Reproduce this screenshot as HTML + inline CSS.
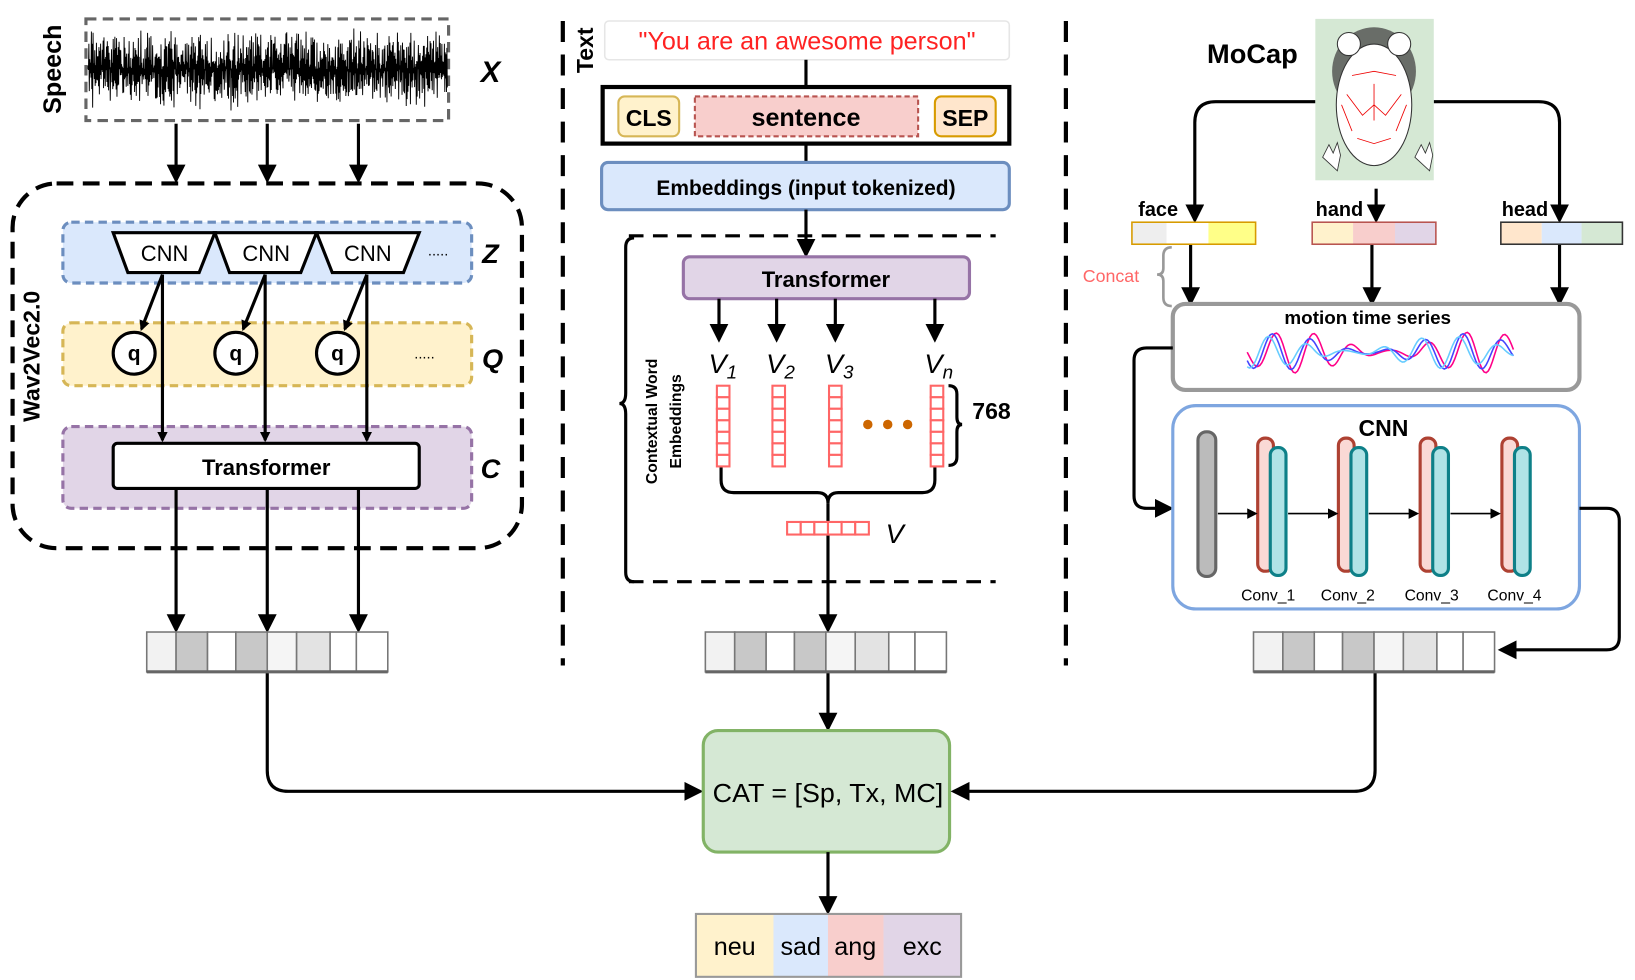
<!DOCTYPE html>
<html><head><meta charset="utf-8"><style>
html,body{margin:0;padding:0;background:#fff;width:1635px;height:980px;overflow:hidden}
svg{display:block}
text{font-family:"Liberation Sans",sans-serif}
</style></head><body>
<svg width="1635" height="980" viewBox="0 0 1560 935" xmlns="http://www.w3.org/2000/svg">
<defs>
<marker id="ah" markerWidth="10" markerHeight="10" refX="8" refY="5" orient="auto" markerUnits="userSpaceOnUse"><path d="M0,0 L10,5 L0,10 Z" fill="#000"/></marker>
<marker id="ab" markerWidth="18" markerHeight="18" refX="15" refY="9" orient="auto" markerUnits="userSpaceOnUse"><path d="M0,0 L18,9 L0,18 Z" fill="#000"/></marker>
</defs>
<g stroke="#000" stroke-width="3" fill="none">
<rect x="82" y="18" width="346" height="97" stroke="#666" stroke-width="3" stroke-dasharray="10 6"/>
<path id="wave" d="" stroke="#000" stroke-width="0.9"/>
<line x1="168" y1="118" x2="168" y2="172" marker-end="url(#ab)"/>
<line x1="255" y1="118" x2="255" y2="172" marker-end="url(#ab)"/>
<line x1="342" y1="118" x2="342" y2="172" marker-end="url(#ab)"/>
<rect x="12" y="175" width="486" height="348" rx="42" stroke-width="4" stroke-dasharray="16 9"/>
<rect x="60" y="212" width="390" height="58" rx="8" fill="#dae8fc" stroke="#6c8ebf" stroke-dasharray="8 5"/>
<rect x="60" y="308" width="390" height="60" rx="8" fill="#fff2cc" stroke="#d6b656" stroke-dasharray="8 5"/>
<rect x="60" y="407" width="390" height="78" rx="8" fill="#e1d5e7" stroke="#9673a6" stroke-dasharray="8 5"/>
<path d="M108,222 L205,222 L190,260 L122,260 Z" fill="#fff"/>
<path d="M205,222 L302,222 L287,260 L219,260 Z" fill="#fff"/>
<path d="M302,222 L400,222 L385,260 L317,260 Z" fill="#fff"/>
<circle cx="128" cy="337" r="20" fill="#fff"/>
<circle cx="225" cy="337" r="20" fill="#fff"/>
<circle cx="322" cy="337" r="20" fill="#fff"/>
<line x1="155" y1="262" x2="135" y2="314" marker-end="url(#ah)"/>
<line x1="253" y1="262" x2="232" y2="314" marker-end="url(#ah)"/>
<line x1="350" y1="262" x2="329" y2="314" marker-end="url(#ah)"/>
<line x1="155" y1="262" x2="155" y2="420" marker-end="url(#ah)"/>
<line x1="253" y1="262" x2="253" y2="420" marker-end="url(#ah)"/>
<line x1="350" y1="262" x2="350" y2="420" marker-end="url(#ah)"/>
<rect x="108" y="423" width="292" height="43" rx="4" fill="#fff" stroke-width="3"/>
<line x1="168" y1="466" x2="168" y2="601" marker-end="url(#ab)"/>
<line x1="255" y1="466" x2="255" y2="601" marker-end="url(#ab)"/>
<line x1="342" y1="466" x2="342" y2="601" marker-end="url(#ab)"/>
<path d="M255,641 L255,735 Q255,755 275,755 L668,755" marker-end="url(#ab)"/>
<line x1="537" y1="20" x2="537" y2="635" stroke-width="4" stroke-dasharray="20 12"/>
<line x1="1017" y1="20" x2="1017" y2="635" stroke-width="4" stroke-dasharray="20 12"/>
<rect x="577" y="20" width="386" height="37" rx="4" stroke="#e6e6e6" stroke-width="1.5" fill="#fff"/>
<line x1="769" y1="57" x2="769" y2="83"/>
<rect x="575" y="83" width="388" height="54" stroke-width="4" fill="#fff"/>
<rect x="590" y="92" width="58" height="38" rx="6" fill="#fff2cc" stroke="#d6b656" stroke-width="2"/>
<rect x="663" y="92" width="213" height="38" fill="#f8cecc" stroke="#b85450" stroke-width="2" stroke-dasharray="5 3"/>
<rect x="892" y="92" width="58" height="38" rx="6" fill="#ffe6cc" stroke="#d79b00" stroke-width="2"/>
<line x1="769" y1="137" x2="769" y2="155"/>
<rect x="574" y="155" width="389" height="45" rx="6" fill="#dae8fc" stroke="#6c8ebf" stroke-width="3"/>
<line x1="769" y1="200" x2="769" y2="243" marker-end="url(#ab)"/>
<line x1="600" y1="225" x2="950" y2="225" stroke-dasharray="14 9"/>
<line x1="600" y1="555" x2="950" y2="555" stroke-dasharray="14 9"/>
<path d="M605,227 Q597,227 597,236 L597,375 Q597,385 591,385 Q597,385 597,395 L597,546 Q597,555 605,555"/>
<rect x="652" y="245" width="273" height="40" rx="6" fill="#e1d5e7" stroke="#9673a6" stroke-width="3"/>
<line x1="686" y1="285" x2="686" y2="324" marker-end="url(#ab)"/>
<line x1="741" y1="285" x2="741" y2="324" marker-end="url(#ab)"/>
<line x1="797" y1="285" x2="797" y2="324" marker-end="url(#ab)"/>
<line x1="892" y1="285" x2="892" y2="324" marker-end="url(#ab)"/>
<path d="M905,368 Q913,368 913,376 L913,398 Q913,405 918,405 Q913,405 913,412 L913,436 Q913,444 905,444"/>
<path d="M688,446 L688,458 Q688,470 700,470 L780,470 Q790,470 790,480 Q790,470 800,470 L880,470 Q892,470 892,458 L892,446"/>
<line x1="790" y1="480" x2="790" y2="498"/>
<line x1="790" y1="510" x2="790" y2="601" marker-end="url(#ab)"/>
<line x1="790" y1="641" x2="790" y2="695" marker-end="url(#ab)"/>
<rect x="671" y="697" width="235" height="116" rx="14" fill="#d5e8d4" stroke="#82b366" stroke-width="3"/>
<line x1="790" y1="813" x2="790" y2="870" marker-end="url(#ab)"/>
<path d="M1255,97 L1160,97 Q1140,97 1140,117 L1140,210" marker-end="url(#ab)"/>
<path d="M1368,97 L1468,97 Q1488,97 1488,117 L1488,210" marker-end="url(#ab)"/>
<line x1="1313" y1="180" x2="1313" y2="210" marker-end="url(#ab)"/>
<line x1="1136" y1="233" x2="1136" y2="289" marker-end="url(#ab)"/>
<line x1="1309" y1="233" x2="1309" y2="289" marker-end="url(#ab)"/>
<line x1="1488" y1="233" x2="1488" y2="289" marker-end="url(#ab)"/>
<path d="M1118,236 Q1110,236 1110,244 L1110,256 Q1110,262 1104,262 Q1110,262 1110,268 L1110,284 Q1110,292 1118,292" stroke="#999" stroke-width="2.5"/>
<rect x="1119" y="290" width="388" height="82" rx="12" stroke="#999" stroke-width="4" fill="#fff"/>
<path d="M1119,332 L1094,332 Q1082,332 1082,344 L1082,473 Q1082,485 1094,485 L1117,485" marker-end="url(#ab)"/>
<rect x="1119" y="387" width="388" height="194" rx="22" stroke="#7ea6e0" stroke-width="3" fill="#fff"/>
<path d="M1507,485 L1533,485 Q1545,485 1545,497 L1545,608 Q1545,620 1533,620 L1432,620" marker-end="url(#ab)"/>
<path d="M1312,641 L1312,735 Q1312,755 1292,755 L910,755" marker-end="url(#ab)"/>
<rect x="1143" y="412" width="17" height="138" rx="8" fill="#bbb" stroke="#666" stroke-width="3"/>
<g id="convs"></g>
<line x1="1162" y1="490" x2="1198" y2="490" stroke-width="1.5" marker-end="url(#ah)"/>
<line x1="1229" y1="490" x2="1275" y2="490" stroke-width="1.5" marker-end="url(#ah)"/>
<line x1="1306" y1="490" x2="1352" y2="490" stroke-width="1.5" marker-end="url(#ah)"/>
<line x1="1384" y1="490" x2="1430" y2="490" stroke-width="1.5" marker-end="url(#ah)"/>
<path id="w1" d="" stroke="#f08" stroke-width="1.5"/>
<path id="w2" d="" stroke="#44f" stroke-width="1.5"/>
<path id="w3" d="" stroke="#6cf" stroke-width="1.5"/>
</g>
<g id="vecs"></g>
<g stroke-width="1.5">
<rect x="1080" y="212" width="33" height="21" fill="#eee" stroke="none"/><rect x="1113" y="212" width="40" height="21" fill="#fff" stroke="none"/><rect x="1153" y="212" width="45" height="21" fill="#ffff88" stroke="none"/>
<rect x="1080" y="212" width="118" height="21" fill="none" stroke="#d79b00"/>
<rect x="1252" y="212" width="39" height="21" fill="#fff2cc"/><rect x="1291" y="212" width="40" height="21" fill="#f8cecc"/><rect x="1331" y="212" width="39" height="21" fill="#e1d5e7"/>
<rect x="1252" y="212" width="118" height="21" fill="none" stroke="#b85450"/>
<rect x="1432" y="212" width="39" height="21" fill="#ffe6cc"/><rect x="1471" y="212" width="38" height="21" fill="#dae8fc"/><rect x="1509" y="212" width="39" height="21" fill="#d5e8d4"/>
<rect x="1432" y="212" width="116" height="21" fill="none" stroke="#333"/>
</g>
<rect x="1255" y="18" width="113" height="154" fill="#d5e8d4"/>
<ellipse cx="1311" cy="68" rx="40" ry="42" fill="#444" opacity="0.75"/>
<ellipse cx="1311" cy="100" rx="36" ry="58" fill="#fff" stroke="#333" stroke-width="1"/>
<circle cx="1287" cy="42" r="11" fill="#fff" stroke="#333"/><circle cx="1335" cy="42" r="11" fill="#fff" stroke="#333"/>
<g stroke="#e00" stroke-width="0.8" fill="none"><path d="M1285,90 L1300,110 L1311,100 L1322,110 L1337,90 M1290,72 L1311,68 L1332,72 M1295,132 L1311,137 L1327,132 M1280,100 L1290,125 M1342,100 L1332,125 M1311,80 L1311,115"/></g>
<path d="M1262,150 l6,-12 l4,8 l4,-10 l3,12 l-3,15 z M1350,150 l6,-12 l4,8 l4,-10 l3,12 l-3,15 z" fill="#fff" stroke="#333" stroke-width="0.8"/>
<g stroke="#f66" stroke-width="2" fill="#fff" id="vvec"></g>
<circle cx="828" cy="405" r="4.5" fill="#c60"/><circle cx="847" cy="405" r="4.5" fill="#c60"/><circle cx="866" cy="405" r="4.5" fill="#c60"/>
<rect x="664" y="872" width="74" height="60" fill="#fff2cc"/><rect x="738" y="872" width="52" height="60" fill="#dae8fc"/><rect x="790" y="872" width="53" height="60" fill="#f8cecc"/><rect x="843" y="872" width="74" height="60" fill="#e1d5e7"/>
<rect x="664" y="872" width="253" height="60" fill="none" stroke="#999" stroke-width="2"/>
<g font-weight="bold" fill="#000">
<text x="52" y="66" font-size="24" transform="rotate(-90 52 66)" text-anchor="middle" dominant-baseline="middle">Speech</text>
<text x="468" y="78" font-size="28" font-style="italic" text-anchor="middle">X</text>
<text x="32" y="340" font-size="22" transform="rotate(-90 32 340)" text-anchor="middle" dominant-baseline="middle">Wav2Vec2.0</text>
<g font-weight="normal" font-size="21" text-anchor="middle"><text x="157" y="249">CNN</text><text x="254" y="249">CNN</text><text x="351" y="249">CNN</text></g>
<text x="418" y="244" font-size="14" font-weight="normal" text-anchor="middle">.....</text>
<text x="468" y="251" font-size="26" font-style="italic" text-anchor="middle">Z</text>
<g font-size="20" text-anchor="middle"><text x="128" y="344">q</text><text x="225" y="344">q</text><text x="322" y="344">q</text></g>
<text x="405" y="342" font-size="14" font-weight="normal" text-anchor="middle">.....</text>
<text x="470" y="351" font-size="26" font-style="italic" text-anchor="middle">Q</text>
<text x="254" y="453" font-size="21" text-anchor="middle">Transformer</text>
<text x="468" y="456" font-size="26" font-style="italic" text-anchor="middle">C</text>
<text x="560" y="48" font-size="22" transform="rotate(-90 560 48)" text-anchor="middle" dominant-baseline="middle">Text</text>
<text x="770" y="47" font-size="24" font-weight="normal" fill="#f22" text-anchor="middle">"You are an awesome person"</text>
<text x="619" y="120" font-size="22" text-anchor="middle">CLS</text>
<text x="769" y="120" font-size="24" text-anchor="middle">sentence</text>
<text x="921" y="120" font-size="22" text-anchor="middle">SEP</text>
<text x="769" y="186" font-size="20" text-anchor="middle">Embeddings (input tokenized)</text>
<text x="788" y="274" font-size="21" text-anchor="middle">Transformer</text>
<text x="623" y="402" font-size="15" transform="rotate(-90 623 402)" text-anchor="middle" dominant-baseline="middle">Contextual Word</text>
<text x="646" y="402" font-size="15" transform="rotate(-90 646 402)" text-anchor="middle" dominant-baseline="middle">Embeddings</text>
<g font-family="Liberation Serif,serif" font-style="italic" font-weight="normal" font-size="26">
<text x="676" y="356">V<tspan font-size="18" dy="5">1</tspan></text>
<text x="731" y="356">V<tspan font-size="18" dy="5">2</tspan></text>
<text x="787" y="356">V<tspan font-size="18" dy="5">3</tspan></text>
<text x="882" y="356">V<tspan font-size="18" dy="5">n</tspan></text>
<text x="845" y="518">V</text></g>
<text x="946" y="400" font-size="22" text-anchor="middle">768</text>
<text x="790" y="765" font-size="25" font-weight="normal" text-anchor="middle" textLength="220" lengthAdjust="spacingAndGlyphs">CAT = [Sp, Tx, MC]</text>
<g font-size="24" font-weight="normal" text-anchor="middle"><text x="701" y="911">neu</text><text x="764" y="911">sad</text><text x="816" y="911">ang</text><text x="880" y="911">exc</text></g>
<text x="1195" y="60" font-size="26" text-anchor="middle">MoCap</text>
<text x="1105" y="206" font-size="19" text-anchor="middle">face</text>
<text x="1278" y="206" font-size="19" text-anchor="middle">hand</text>
<text x="1455" y="206" font-size="19" text-anchor="middle">head</text>
<text x="1060" y="269" font-size="17" font-weight="normal" fill="#f66" text-anchor="middle">Concat</text>
<text x="1305" y="309" font-size="18" text-anchor="middle">motion time series</text>
<text x="1320" y="416" font-size="22" text-anchor="middle">CNN</text>
<g font-size="15" font-weight="normal" text-anchor="middle"><text x="1210" y="573">Conv_1</text><text x="1286" y="573">Conv_2</text><text x="1366" y="573">Conv_3</text><text x="1445" y="573">Conv_4</text></g>
</g>
</svg>
<script>
(function(){
var ns="http://www.w3.org/2000/svg";
function el(t,a,p){var e=document.createElementNS(ns,t);for(var k in a)e.setAttribute(k,a[k]);p.appendChild(e);return e;}
var s=12345;function r(){s=(s*16807)%2147483647;return s/2147483647;}
var d="M84,66";var sg=1;for(var x=84;x<427;x+=0.4){sg=-sg;var a=sg*r()*(20+r()*20);if(r()<0.02)a*=1.5;d+=" L"+x.toFixed(1)+","+(66+a).toFixed(1);}
document.getElementById("wave").setAttribute("d",d);
function wv(id,ph,amp){var d="";for(var x=1190;x<=1445;x+=2){var t=(x-1190)/255;var y=336+Math.sin(t*Math.PI*14+ph)*amp*(0.6+0.5*Math.sin(t*9+ph));d+=(d?" L":"M")+x+","+y.toFixed(1);}document.getElementById(id).setAttribute("d",d);}
wv("w1",0,18);wv("w2",0.6,16);wv("w3",1.2,14);
var cg=document.getElementById("convs");
[1200,1277,1355,1433].forEach(function(x){
el("rect",{x:x,y:418,width:15,height:127,rx:7,fill:"#fad9d5",stroke:"#ae4132","stroke-width":3},cg);
el("rect",{x:x+12,y:427,width:15,height:122,rx:7,fill:"#b0e3e6",stroke:"#0e8088","stroke-width":3},cg);});
var vg=document.getElementById("vecs");
var cols=["#f2f2f2","#c8c8c8","#fff","#c8c8c8","#f5f5f5","#e3e3e3","#fff","#fff"];
var ws=[28,30,27,30,28,32,25,30];
[140,673,1196].forEach(function(x0){var x=x0;for(var i=0;i<8;i++){el("rect",{x:x,y:603,width:ws[i],height:38,fill:cols[i],stroke:"#777","stroke-width":1.5},vg);x+=ws[i];}
el("line",{x1:x0,y1:641,x2:x,y2:641,stroke:"#666","stroke-width":3},vg);});
var tv=document.getElementById("vvec");
[684,737,791,888].forEach(function(x){for(var i=0;i<7;i++)el("rect",{x:x,y:368+i*11,width:12,height:11},tv);});
for(var i=0;i<6;i++)el("rect",{x:751+i*13,y:498,width:13,height:12},tv);
})();
</script>
</body></html>
